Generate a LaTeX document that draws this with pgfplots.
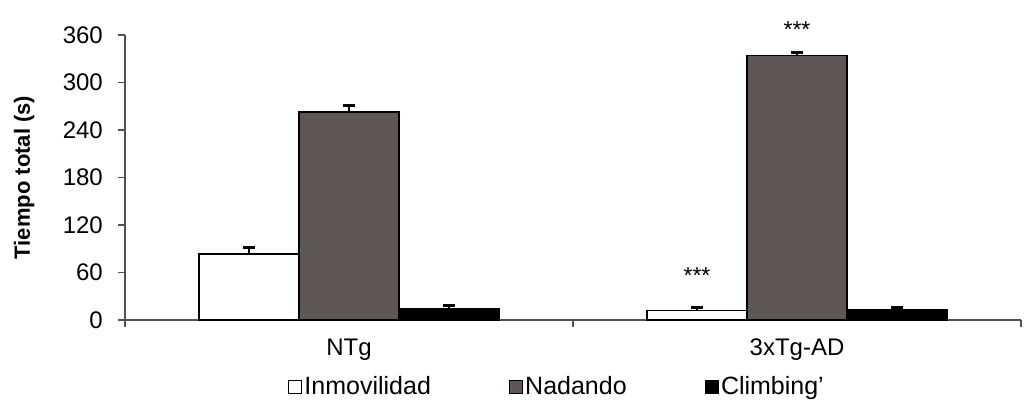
\documentclass[border=0pt]{standalone}
\usepackage{fontspec}
\setmainfont{Liberation Sans}
\usepackage{pgfplots}
\pgfplotsset{compat=1.18}
\definecolor{nad}{RGB}{95,87,86}
\definecolor{axc}{RGB}{85,80,80}
\begin{document}
\fontsize{24pt}{28pt}\selectfont
\begin{tikzpicture}
\begin{axis}[
  scale only axis,
  width=896pt, height=285pt,
  xmin=-0.5, xmax=1.5,
  ymin=0, ymax=360,
  ytick={0,60,...,360},
  xtick={0,1},
  xticklabels={NTg,3xTg-AD},
  minor xtick={-0.5,0.5,1.5},
  axis lines*=left,
  axis line style={axc, line width=1.2pt},
  tick style={axc, line width=1.2pt},
  major x tick style={draw=none},
  tick align=outside,
  major tick length=7pt,
  minor tick length=7pt,
  /pgf/number format/assume math mode=true,
  tick label style={font=\fontsize{24pt}{28pt}\selectfont},
  yticklabel style={xshift=-7pt},
  xticklabel style={yshift=-4pt},
  ylabel={\bfseries Tiempo total (s)},
  ylabel style={font=\fontsize{22pt}{26pt}\selectfont, yshift=12pt},
  ybar=0pt,
  bar width=100pt,
  clip=false,
  legend style={at={(0.5,-0.2)}, anchor=north, xshift=-16pt, yshift=5pt, draw=none, fill=none,
    font=\fontsize{25pt}{29pt}\selectfont,
    legend columns=3, /tikz/every even column/.append style={column sep=76pt}},
  legend image code/.code={\draw[#1, line width=1.3pt] (2pt,-6.5pt) rectangle (15pt,6.5pt);},
  error bars/y dir=plus,
  error bars/y explicit,
  error bars/error bar style={black, line width=2.5pt},
  error bars/error mark options={black, line width=3pt, mark size=6pt, rotate=90},
]
\addplot[draw=black, fill=white, line width=1.8pt] coordinates {(0,83) +- (0,9) (1,12) +- (0,4)};
\addplot[draw=black, fill=nad, line width=1.8pt] coordinates {(0,263) +- (0,8) (1,334) +- (0,4)};
\addplot[draw=black, fill=black, line width=1.8pt] coordinates {(0,14) +- (0,4) (1,13) +- (0,3)};
\legend{Inmovilidad,Nadando,Climbing'}
\node[font=\fontsize{23pt}{27pt}\selectfont] at (axis cs:0.7768,56) {***};
\node[font=\fontsize{23pt}{27pt}\selectfont] at (axis cs:1,367) {***};
\end{axis}
\path ([xshift=-125pt,yshift=-92pt]current axis.south west) rectangle ([xshift=5pt,yshift=35pt]current axis.north east);
\end{tikzpicture}
\end{document}
